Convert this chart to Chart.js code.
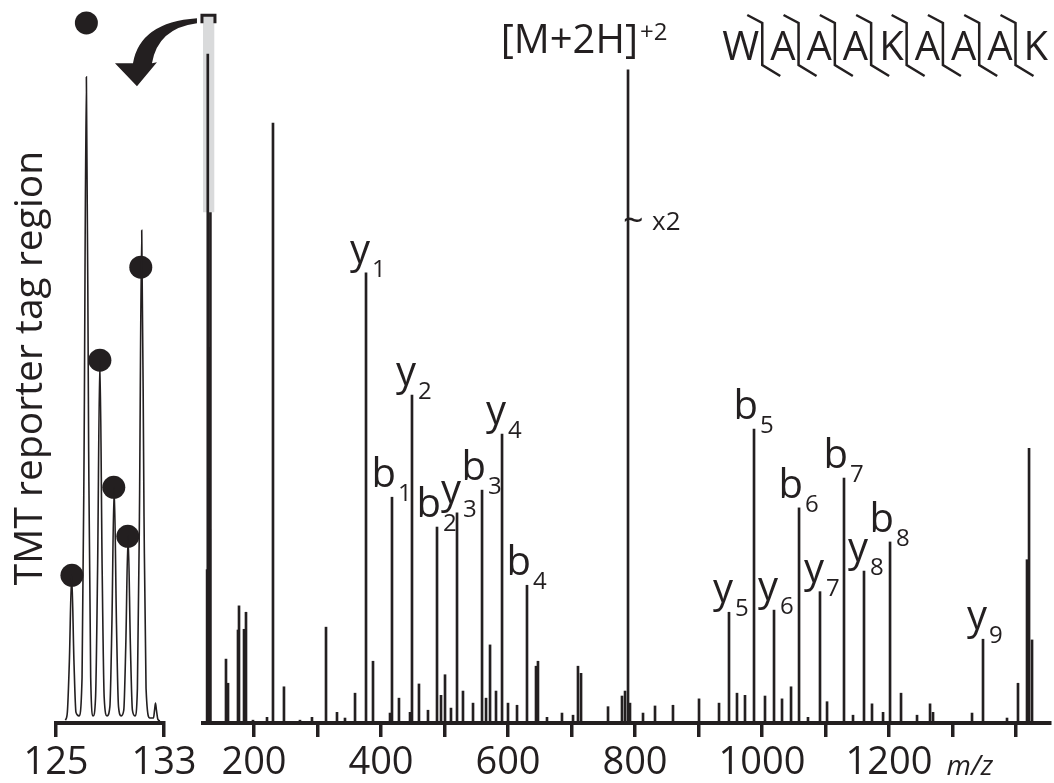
<!DOCTYPE html>
<html>
<head>
<meta charset="utf-8">
<script src="https://cdn.jsdelivr.net/npm/chart.js@4.4.1/dist/chart.umd.min.js"></script>
<style>
html,body{margin:0;padding:0;background:#fff;}
#wrap{position:relative;width:1054px;height:783px;overflow:hidden;}
canvas{position:absolute;left:0;top:0;}
</style>
</head>
<body>
<div id="wrap">
<canvas id="main" width="1054" height="783"></canvas>
<canvas id="inset" width="200" height="783"></canvas>
</div>
<script>
// ---------------- DATA ----------------
// Labelled fragment ions (m/z, relative intensity)
const ionNames = ['y','b','y','b','y','b','y','b','y','b','y','b','y','b','y','b','y'];
const ionSubs  = ['1','1','2','2','3','3','4','4','5','5','6','6','7','7','8','8','9'];
const ionMz    = [376.4,417.3,448.8,488.2,519.7,559.1,590.6,629.9,948.0,987.4,1018.9,1058.3,1091.3,1129.1,1160.6,1201.6,1348.0];
const ionIntensity = [63.4,31.8,46.2,27.6,29.6,32.8,40.7,19.4,15.6,41.4,15.9,30.3,18.5,34.5,21.4,25.5,11.8];

// Precursor [M+2H]+2
const precursorMz = [789.0];
const precursorIntensity = [92.0];
const precursorBreak = 69.4;   // where the "~ x2" break mark sits

// TMT reporter ions as seen in the full spectrum
const reporterMz = [126.16,127.25,128.25,129.31,130.34,131.35];
const reporterIntensity = [21.6,94.2,52.9,34.4,27.3,71.9];
// highlighted (zoomed) region
const highlightMz = [128.3];
const highlightRange = [[72.0,99.7]];

// Other (unlabelled) peaks
const otherMz = [155.9,159.1,174.8,176.4,184.3,187.4,198.4,220.5,229.9,247.2,272.4,291.3,313.4,330.7,343.3,359.1,387.4,414.2,428.3,445.7,459.8,474.0,494.5,500.8,510.2,529.1,544.9,565.4,571.7,581.1,600.0,614.2,644.1,647.2,661.4,685.0,702.4,710.2,715.0,757.5,779.5,784.3,792.1,812.6,831.5,859.8,900.8,932.3,960.6,973.2,1004.7,1031.5,1045.7,1072.4,1102.4,1143.3,1173.2,1190.6,1218.9,1244.1,1264.6,1269.3,1330.7,1385.8,1403.1,1417.3,1420.5,1425.2];
const otherIntensity = [9.0,5.6,13.1,16.5,13.2,15.6,0.4,0.8,84.5,5.1,0.4,0.8,13.5,1.5,0.7,4.2,8.7,1.4,3.5,1.5,5.5,1.8,3.9,6.8,2.1,4.5,2.8,3.5,11.0,4.5,2.8,2.5,8.0,8.7,0.8,1.4,1.1,8.0,7.0,2.3,3.8,4.5,2.8,1.4,2.4,2.5,3.4,2.8,4.2,3.9,3.8,3.4,5.1,0.8,3.0,1.1,2.7,1.5,4.2,1.1,2.7,1.5,1.4,0.7,5.6,23.0,38.7,11.7];

// Inset: TMT reporter tag region profile
const insetProfileMz = [125.70,125.84,125.99,126.16,126.33,126.48,126.70,126.93,127.08,127.25,127.42,127.57,127.75,127.93,128.08,128.25,128.42,128.57,128.78,128.99,129.14,129.31,129.48,129.63,129.83,130.02,130.17,130.34,130.51,130.66,130.85,131.03,131.18,131.35,131.52,131.67,131.95,132.22,132.30,132.37,132.44,132.55,132.70];
const insetProfileIntensity = [0.4,1.5,8.7,20.8,8.7,1.5,1.0,6.4,38.2,91.0,38.2,6.4,1.0,3.6,21.5,51.1,21.5,3.6,1.0,2.3,13.9,33.2,13.9,2.3,1.0,1.8,11.0,26.3,11.0,1.8,1.0,4.9,29.1,69.4,29.1,4.9,0.7,0.7,1.8,2.8,1.8,0.5,0.3];
const insetDotMz = [126.18,127.25,128.25,129.28,130.32,131.28];
const insetDotIntensity = [20.8,98.6,51.1,33.2,26.3,64.2];

// Axis ticks
const mainTicks = [200,300,400,500,600,700,800,900,1000,1100,1200,1300,1400];
const mainTickLabels = [200,400,600,800,1000,1200];
const insetTicks = [125,133];

// Texts
const sequence = 'WAAAKAAAK';
const insetTitle = 'TMT reporter tag region';
const xUnit = 'm/z';

// ---------------- STYLE ----------------
const INK = '#231f20';
const GREY = '#d9dadb';
const FONT = '"Open Sans", "Noto Sans", sans-serif';

function xAxis(min, max, ticks, labels) {
  return {
    type: 'linear', min: min, max: max, offset: false,
    afterBuildTicks: s => { s.ticks = ticks.map(v => ({ value: v })); },
    afterFit: s => { s.height = 60; },
    grid: { display: true, drawOnChartArea: false, drawTicks: true, tickLength: 14, lineWidth: 3.5, color: INK, offset: false },
    border: { display: true, width: 4, color: INK },
    ticks: {
      autoSkip: false, maxRotation: 0, minRotation: 0, padding: 3,
      font: { family: FONT, size: 38 }, color: INK,
      callback: v => (labels.indexOf(v) >= 0 ? String(v) : '')
    }
  };
}

const annotPlugin = {
  id: 'annot',
  afterDatasetsDraw(chart) {
    const ctx = chart.ctx;
    const area = chart.chartArea;
    ctx.save();
    ctx.fillStyle = INK;
    ctx.strokeStyle = INK;
    ctx.textBaseline = 'alphabetic';

    // ion labels
    const ionMeta = chart.getDatasetMeta(0);
    ionMeta.data.forEach((el, i) => {
      ctx.font = `40px ${FONT}`;
      ctx.textAlign = 'right';
      ctx.fillText(ionNames[i], el.x + 4, el.y - 10);
      ctx.font = `24px ${FONT}`;
      ctx.textAlign = 'left';
      ctx.fillText(ionSubs[i], el.x + 6, el.y + 4);
    });

    // precursor label
    const pMeta = chart.getDatasetMeta(1);
    pMeta.data.forEach(el => {
      ctx.font = `40px ${FONT}`;
      ctx.textAlign = 'right';
      ctx.fillText('[M+2H]', el.x + 10, el.y - 17);
      ctx.font = `24px ${FONT}`;
      ctx.textAlign = 'left';
      ctx.fillText('+2', el.x + 12, el.y - 30);
      const by = chart.scales.y.getPixelForValue(precursorBreak);
      ctx.font = `36px ${FONT}`;
      ctx.textAlign = 'left';
      ctx.fillText('~', el.x - 5, by + 3);
      ctx.font = `26px ${FONT}`;
      ctx.fillText('x2', el.x + 24, by);
    });

    // highlight bracket + curved arrow
    const hMeta = chart.getDatasetMeta(3);
    hMeta.data.forEach(el => {
      const l = el.x - el.width / 2 - 1, r = el.x + el.width / 2 + 1, t = el.y;
      ctx.lineWidth = 3;
      ctx.beginPath();
      ctx.moveTo(l, t + 8); ctx.lineTo(l, t); ctx.lineTo(r, t); ctx.lineTo(r, t + 8);
      ctx.stroke();
      const ax = l, ay = t;
      ctx.beginPath();
      ctx.moveTo(ax - 5, ay + 3);
      ctx.quadraticCurveTo(ax - 62, ay + 7, ax - 69, ay + 48);
      ctx.lineTo(ax - 87, ay + 48);
      ctx.lineTo(ax - 65, ay + 71);
      ctx.lineTo(ax - 45, ay + 47);
      ctx.lineTo(ax - 50, ay + 48);
      ctx.quadraticCurveTo(ax - 44, ay + 13, ax - 5, ay + 8);
      ctx.closePath();
      ctx.fill();
    });

    // peptide sequence with fragmentation marks
    ctx.font = `40px ${FONT}`;
    ctx.textAlign = 'left';
    const letters = sequence.split('');
    const widths = letters.map(c => ctx.measureText(c).width);
    const gb = 3, ga = 8;
    const total = widths.reduce((a, b) => a + b, 0) + (letters.length - 1) * (gb + ga);
    let x = area.right - 2 - total;
    const base = area.top + 47;
    ctx.lineWidth = 2.5;
    letters.forEach((c, i) => {
      ctx.fillText(c, x, base);
      x += widths[i];
      if (i < letters.length - 1) {
        const s = x + gb;
        ctx.beginPath();
        ctx.moveTo(s - 15, base - 45);
        ctx.lineTo(s, base - 37);
        ctx.lineTo(s, base + 5);
        ctx.lineTo(s + 18, base + 16);
        ctx.stroke();
        x = s + ga;
      }
    });

    // m/z unit
    ctx.font = `italic 28px ${FONT}`;
    ctx.textAlign = 'left';
    ctx.fillText(xUnit, chart.scales.x.getPixelForValue(1300) - 6, area.bottom + 52);
    ctx.restore();
  }
};

const pts = (xs, ys) => xs.map((x, i) => ({ x: x, y: ys[i] }));

new Chart(document.getElementById('main'), {
  type: 'bar',
  data: {
    datasets: [
      { label: 'ions', data: pts(ionMz, ionIntensity), backgroundColor: INK, barThickness: 2, order: 1 },
      { label: 'precursor', data: pts(precursorMz, precursorIntensity), backgroundColor: INK, barThickness: 2, order: 1 },
      { label: 'reporter', data: pts(reporterMz, reporterIntensity), backgroundColor: INK, barThickness: 2, order: 1 },
      { label: 'highlight', data: pts(highlightMz, highlightRange), backgroundColor: GREY, barThickness: 11, order: 5 },
      { label: 'other', data: pts(otherMz, otherIntensity), backgroundColor: INK, barThickness: 2, order: 1 }
    ]
  },
  options: {
    responsive: false, animation: false,
    layout: { padding: { left: 203, right: 4, top: 13, bottom: 0 } },
    plugins: { legend: { display: false }, tooltip: { enabled: false } },
    datasets: { bar: { grouped: false, borderWidth: 0 } },
    scales: {
      x: xAxis(119.7, 1453.5, mainTicks, mainTickLabels),
      y: { display: false, min: 0, max: 100 }
    }
  },
  plugins: [annotPlugin]
});

new Chart(document.getElementById('inset'), {
  type: 'line',
  data: {
    datasets: [
      { data: pts(insetProfileMz, insetProfileIntensity), borderColor: INK, borderWidth: 1.6, pointRadius: 0, cubicInterpolationMode: 'monotone', fill: false, clip: false },
      { type: 'scatter', data: pts(insetDotMz, insetDotIntensity), pointRadius: 11.5, backgroundColor: INK, borderWidth: 0, showLine: false, clip: false }
    ]
  },
  options: {
    responsive: false, animation: false,
    layout: { padding: { left: 0, right: 36, top: 13, bottom: 0 } },
    plugins: { legend: { display: false }, tooltip: { enabled: false } },
    scales: {
      x: xAxis(125, 133, insetTicks, insetTicks),
      y: {
        min: 0, max: 100,
        afterFit: s => { s.width = 56; },
        grid: { display: false }, border: { display: false }, ticks: { display: false },
        title: { display: true, text: insetTitle, color: INK, font: { family: FONT, size: 39 }, padding: { top: 7, bottom: 0 } }
      }
    }
  }
});
</script>
</body>
</html>
